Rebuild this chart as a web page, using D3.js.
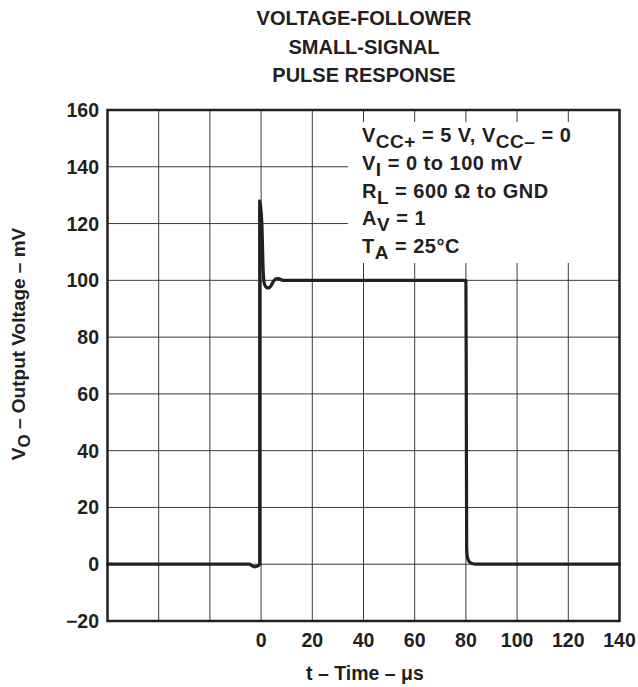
<!DOCTYPE html>
<html>
<head>
<meta charset="utf-8">
<script src="https://cdn.jsdelivr.net/npm/d3@7"></script>
<style>
  html, body { margin: 0; padding: 0; background: #fff; }
  svg { display: block; font-family: "Liberation Sans", Arial, Helvetica, sans-serif; font-weight: bold; }
</style>
</head>
<body>
<svg id="chart" width="638" height="687"></svg>
<script>
// ---- data ----
const titleLines = ["VOLTAGE-FOLLOWER", "SMALL-SIGNAL", "PULSE RESPONSE"];
const xTicks = [0, 20, 40, 60, 80, 100, 120, 140];
const yTicks = [160, 140, 120, 100, 80, 60, 40, 20, 0, -20];
const xGrid = [-60, -40, -20, 0, 20, 40, 60, 80, 100, 120, 140];
const timeUs = [-60, -4.5, -3.5, -2.5, -1.3, -0.55, -0.55, -0.2, 0.3, 0.8, 1.2, 2.0, 2.9, 3.8, 4.8, 5.8, 6.8, 7.8, 8.7, 80.0, 80.15, 80.3, 80.6, 81.2, 82.3, 84.0, 140];
const voltMv = [0, 0, -0.6, -0.9, -0.6, 0, 128, 126, 120, 104, 99, 97.6, 97.3, 98, 99.6, 100.5, 100.6, 100.2, 100, 100, 60, 6, 2.5, 1.0, 0.3, 0, 0];

// ---- layout ----
const svg = d3.select("#chart");
const L = 107.5, R = 619.5, T = 110, B = 621;
const x = d3.scaleLinear().domain([-60, 140]).range([L, R]);
const y = d3.scaleLinear().domain([-20, 160]).range([B, T]);
const ink = "#231f20";

// title
svg.append("g").selectAll("text").data(titleLines).join("text")
  .attr("x", 364).attr("y", (d, i) => 25 + i * 28.5)
  .attr("text-anchor", "middle").attr("font-size", 20).attr("fill", ink)
  .text(d => d);

// grid
const grid = svg.append("g").attr("stroke", "#3a3a3a").attr("stroke-width", 1);
grid.selectAll("line.h").data(yTicks).join("line").attr("class", "h")
  .attr("x1", L).attr("x2", R).attr("y1", d => y(d)).attr("y2", d => y(d));
grid.selectAll("line.v").data(xGrid).join("line").attr("class", "v")
  .attr("x1", d => x(d)).attr("x2", d => x(d)).attr("y1", T).attr("y2", B);

// annotation box (white, hides gridlines)
svg.append("rect").attr("x", 348).attr("y", 122).attr("width", R - 348).attr("height", 263 - 122)
  .attr("fill", "#fff");

// frame
svg.append("rect").attr("x", L).attr("y", T).attr("width", R - L).attr("height", B - T)
  .attr("fill", "none").attr("stroke", ink).attr("stroke-width", 2.5);

// curve
const pts = timeUs.map((t, i) => [t, voltMv[i]]);
svg.append("path").datum(pts)
  .attr("d", d3.line().x(d => x(d[0])).y(d => y(d[1])).curve(d3.curveMonotoneX))
  .attr("fill", "none").attr("stroke", ink).attr("stroke-width", 3.2)
  .attr("stroke-linejoin", "round").attr("stroke-linecap", "round");

// y tick labels
svg.append("g").selectAll("text").data(yTicks).join("text")
  .attr("x", 99).attr("y", d => y(d)).attr("dy", "0.36em")
  .attr("text-anchor", "end").attr("font-size", 19.5).attr("fill", ink)
  .text(d => d < 0 ? "\u2212" + Math.abs(d) : d);

// x tick labels
svg.append("g").selectAll("text").data(xTicks).join("text")
  .attr("x", d => x(d)).attr("y", 647)
  .attr("text-anchor", "middle").attr("font-size", 19.5).attr("fill", ink)
  .text(d => d);

// x axis title
svg.append("text").attr("x", 365).attr("y", 680).attr("text-anchor", "middle")
  .attr("font-size", 19.5).attr("fill", ink)
  .text("t \u2013 Time \u2013 \u03bcs");

// y axis title
const yt = svg.append("text").attr("transform", "translate(25,344) rotate(-90)")
  .attr("text-anchor", "middle").attr("font-size", 19).attr("fill", ink);
yt.append("tspan").text("V");
yt.append("tspan").attr("dy", 5).attr("font-size", 17).text("O");
yt.append("tspan").attr("dy", -5).text(" \u2013 Output Voltage \u2013 mV");

// annotation text
const ann = [
  [["V", 0], ["CC+", 1], [" = 5 V, V", 0], ["CC\u2013", 1], [" = 0", 0]],
  [["V", 0], ["I", 1], [" = 0 to 100 mV", 0]],
  [["R", 0], ["L", 1], [" = 600 \u03a9 to GND", 0]],
  [["A", 0], ["V", 1], [" = 1", 0]],
  [["T", 0], ["A", 1], [" = 25\u00b0C", 0]]
];
ann.forEach((parts, i) => {
  const t = svg.append("text").attr("x", 362).attr("y", 142 + i * 27.8)
    .attr("font-size", 20).attr("letter-spacing", 0.5).attr("fill", ink);
  let sub = 0;
  parts.forEach(([s, isSub]) => {
    const dy = isSub && !sub ? 6 : (!isSub && sub ? -6 : 0);
    sub = isSub;
    t.append("tspan").attr("dy", dy).attr("font-size", isSub ? 19 : 20).text(s);
  });
});
</script>
</body>
</html>
